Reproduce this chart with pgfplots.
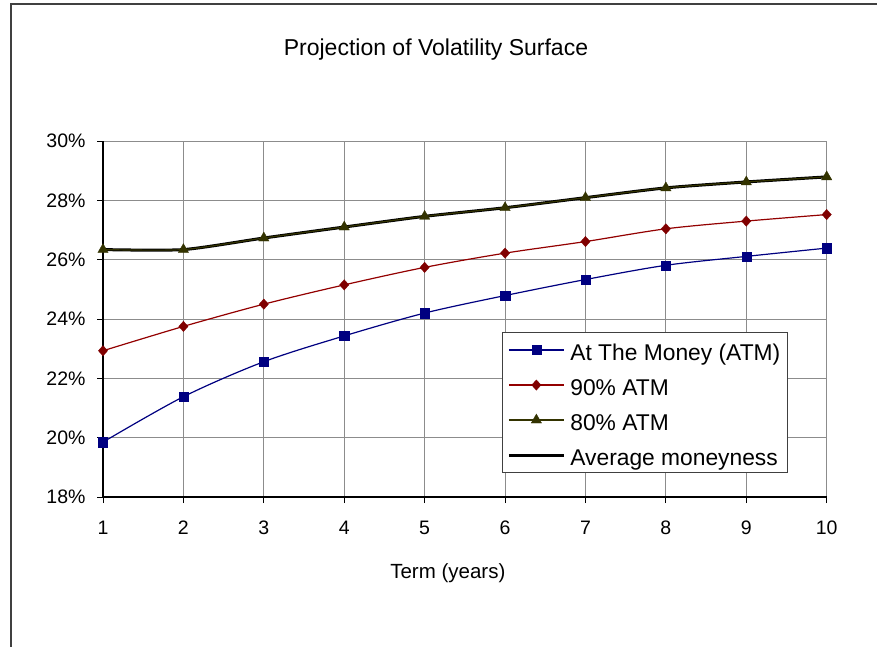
\documentclass[border=0pt]{standalone}
\usepackage{fontspec}
\setmainfont{Liberation Sans}
\usepackage{pgfplots}
\pgfplotsset{compat=1.18}
\definecolor{atmblue}{HTML}{000080}
\definecolor{ninered}{HTML}{800000}
\definecolor{eightolive}{HTML}{333300}
\definecolor{gridgray}{HTML}{8C8C8C}
\begin{document}
\begin{tikzpicture}
\path[use as bounding box] (0,0) rectangle (877bp,647bp);
\draw[line width=2bp, black!75] (11bp,-5bp) -- (11bp,643bp) -- (882bp,643bp);
\begin{axis}[
  at={(103bp,150bp)}, anchor=south west,
  scale only axis, width=723.7bp, height=356bp,
  xmin=1, xmax=10, ymin=18, ymax=30,
  xtick={1,...,10}, ytick={18,20,...,30},
  axis x line*=bottom, axis y line*=left,
  axis line style={black, line width=1.2bp},
  tick align=outside, major tick length=6bp,
  tick style={black, line width=0.8bp},
  grid=major, grid style={gridgray, line width=0.8bp},
  /pgf/number format/assume math mode=true,
  ticklabel style={font=\fontsize{19.5bp}{23bp}\selectfont},
  yticklabel={\pgfmathprintnumber{\tick}\%},
  yticklabel style={anchor=east, xshift=-8bp},
  xticklabel style={anchor=base, yshift=-31.5bp},
  every axis title shift=0pt,
  title={Projection of Volatility Surface},
  title style={at={(axis description cs:0.4601,1.2388)}, anchor=base, font=\fontsize{23bp}{27bp}\selectfont, inner sep=0pt},
  xlabel={Term (years)},
  xlabel style={at={(axis description cs:0.4765,-0.2284)}, anchor=base, font=\fontsize{20.5bp}{24bp}\selectfont, inner sep=0pt},
  legend cell align=left,
  legend image code/.code={\draw[mark repeat=2, mark phase=2, #1] plot coordinates {(0bp,0bp) (27.5bp,0bp) (55bp,0bp)};},
  legend style={at={(axis description cs:0.5513,0.4635)}, anchor=north west,
    draw=black!75, line width=0.8bp, fill=white,
    font=\fontsize{22.8bp}{26bp}\selectfont,
    inner xsep=5bp, inner ysep=2bp, row sep=3.7bp, column sep=3bp,
    nodes={inner xsep=2bp, inner ysep=1bp, text height=24.7bp, text depth=4.6bp}},
]
\addplot[black, line width=3bp, smooth, tension=0.4, forget plot] coordinates {
 (1,26.34) (2,26.34) (3,26.73) (4,27.10) (5,27.46) (6,27.75) (7,28.09) (8,28.42) (9,28.62) (10,28.79)};
\addplot[atmblue, line width=1.2bp, smooth, tension=0.5, mark=square*, mark size=4.6bp, mark options={solid, fill=atmblue, line width=0.3bp}] coordinates {
 (1,19.85) (2,21.38) (3,22.56) (4,23.43) (5,24.20) (6,24.79) (7,25.33) (8,25.81) (9,26.11) (10,26.39)};
\addlegendentry{At The Money (ATM)}
\addplot[ninered!85!red, line width=1.2bp, smooth, tension=0.5, mark=diamond*, mark size=5.2bp, mark options={solid, draw=ninered, fill=ninered, line width=0.3bp, xscale=1.2}] coordinates {
 (1,22.93) (2,23.75) (3,24.50) (4,25.15) (5,25.74) (6,26.22) (7,26.61) (8,27.04) (9,27.30) (10,27.52)};
\addlegendentry{90\% ATM}
\addplot[eightolive, line width=1.2bp, smooth, tension=0.4, mark=triangle*, mark size=6bp, mark options={solid, fill=eightolive, line width=0.3bp}] coordinates {
 (1,26.34) (2,26.34) (3,26.73) (4,27.10) (5,27.46) (6,27.75) (7,28.09) (8,28.42) (9,28.62) (10,28.79)};
\addlegendentry{80\% ATM}
\addlegendimage{black, line width=3bp}
\addlegendentry{Average moneyness}
\end{axis}
\end{tikzpicture}
\end{document}
